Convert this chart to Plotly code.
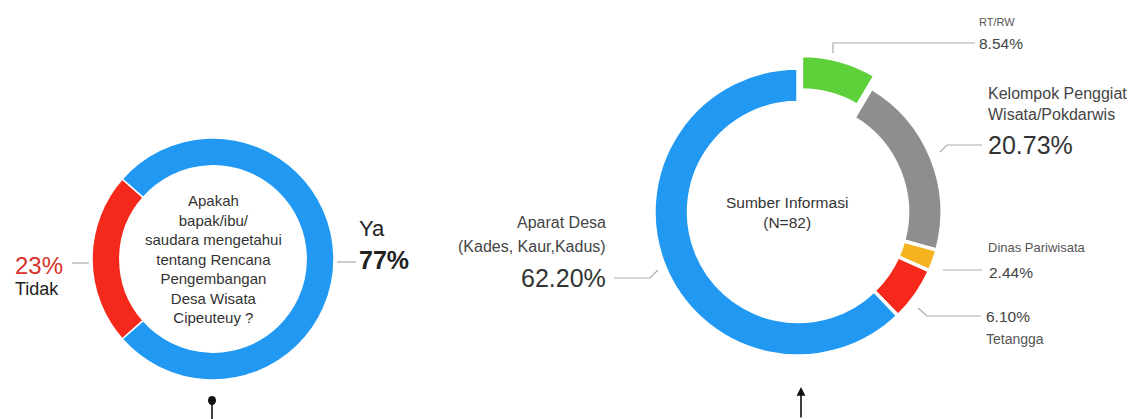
import plotly.graph_objects as go

# ---------------- data ----------------
q_labels = ["Tidak", "Ya"]
q_values = [23, 77]
q_colors = ["#f4291b", "#2199f3"]
q_title = "Apakah<br>bapak/ibu/<br>saudara mengetahui<br>tentang Rencana<br>Pengembangan<br>Desa Wisata<br>Cipeuteuy ?"

src_labels = ["RT/RW", "Kelompok Penggiat Wisata/Pokdarwis", "Dinas Pariwisata", "Tetangga",
              "Aparat Desa (Kades, Kaur,Kadus)"]
src_values = [8.54, 20.73, 2.44, 6.10, 62.20]
src_colors = ["#5dd03a", "#8e8e8e", "#f6b320", "#f5281b", "#2199f3"]
src_pull = [0.09, 0, 0, 0, 0]
src_title = "Sumber Informasi<br>(N=82)"

# the page body has an 8px margin, so the figure is drawn 8px in from the window
OFF = 8
W, H = 1143 - OFF, 419 - OFF
FONT = "Liberation Sans, Arial, Helvetica, sans-serif"


def X(p):
    return (p - OFF) / W


def Y(p):
    return 1 - (p - OFF) / H


fig = go.Figure()

# left donut: centre (213,259), r=121
fig.add_trace(go.Pie(
    labels=q_labels, values=q_values, sort=False, direction="clockwise",
    rotation=270 - 0.5 * 360 * q_values[0] / sum(q_values),
    hole=0.77, textinfo="none", hoverinfo="label+percent",
    marker=dict(colors=q_colors, line=dict(color="white", width=1.5)),
    domain=dict(x=[X(92), X(334)], y=[Y(380), Y(138)]),
    showlegend=False,
))

# right donut: centre (798,212), r=144 (domain enlarged for the pull)
fig.add_trace(go.Pie(
    labels=src_labels, values=src_values, sort=False, direction="clockwise",
    rotation=0, hole=0.76, pull=src_pull, textinfo="none", hoverinfo="label+value",
    marker=dict(colors=src_colors, line=dict(color="white", width=3.5)),
    domain=dict(x=[X(641), X(955)], y=[Y(369), Y(55)]),
    showlegend=False,
))

ann = []


def txt(text, x, y, size, color="#333333", xanchor="left", bold=False, align="left"):
    if bold:
        text = "<b>" + text + "</b>"
    ann.append(dict(text=text, x=X(x), y=Y(y), xref="paper", yref="paper",
                    xanchor=xanchor, yanchor="middle", showarrow=False, align=align,
                    font=dict(family=FONT, size=size, color=color)))


# centre texts
txt(q_title, 213, 259, 15, "#333333", xanchor="center", align="center")
txt(src_title, 787, 212, 15.5, "#333333", xanchor="center", align="center")

# left donut labels
txt(f"{q_values[0]}%", 13, 265, 24, "#d8322a")
txt(q_labels[0], 13, 289, 18, "#222222")
txt(q_labels[1], 357, 228, 22, "#222222")
txt(f"{q_values[1]}%", 357, 260, 25, "#222222", bold=True)

# right donut labels
txt(src_labels[0], 977, 22, 11, "#555555")
txt(f"{src_values[0]:.2f}%", 977, 43, 15.5, "#444444")
txt("Kelompok Penggiat<br>Wisata/Pokdarwis", 986, 104, 16, "#444444")
txt(f"{src_values[1]:.2f}%", 986, 145, 25, "#333333")
txt(src_labels[2], 986, 248, 13, "#555555")
txt(f"{src_values[2]:.2f}%", 987, 272, 15.5, "#444444")
txt(f"{src_values[3]:.2f}%", 984, 316, 15.5, "#444444")
txt(src_labels[3], 984, 339, 14, "#555555")
txt("Aparat Desa", 608, 222, 16, "#444444", xanchor="right")
txt("(Kades, Kaur,Kadus)", 608, 247, 16, "#444444", xanchor="right")
txt(f"{src_values[4]:.2f}%", 608, 278, 25, "#333333", xanchor="right")

# arrow at the bottom
ann.append(dict(x=X(801), y=Y(387), xref="paper", yref="paper", text="",
                showarrow=True, ax=0, ay=34, arrowhead=2, arrowsize=1.1,
                arrowwidth=1.6, arrowcolor="#111111", standoff=0))

shapes = []
LC = "#aaaaaa"


def path(points, color=LC, width=1.2):
    d = "M " + " L ".join(f"{X(a)},{Y(b)}" for a, b in points)
    shapes.append(dict(type="path", path=d, xref="paper", yref="paper",
                       line=dict(color=color, width=width)))


path([(72, 263), (89, 263)])
path([(337, 262), (356, 262)])
path([(833, 53), (833, 43), (975, 43)])
path([(940, 152), (947, 145), (982, 145)])
path([(943, 270), (982, 270)])
path([(918, 308), (927, 316), (981, 316)])
path([(614, 278), (650, 278), (658, 270)])

# dot + line at bottom left
path([(212, 401), (212, 419)], color="#111111", width=1.6)
shapes.append(dict(type="circle", xref="paper", yref="paper",
                   x0=X(208), x1=X(216), y0=Y(396), y1=Y(405),
                   fillcolor="#111111", line=dict(color="#111111", width=0)))

fig.update_layout(
    width=W, height=H, margin=dict(l=0, r=0, t=0, b=0),
    paper_bgcolor="white", plot_bgcolor="white",
    annotations=ann, shapes=shapes,
    font=dict(family=FONT),
)

fig.write_html("out.html")
